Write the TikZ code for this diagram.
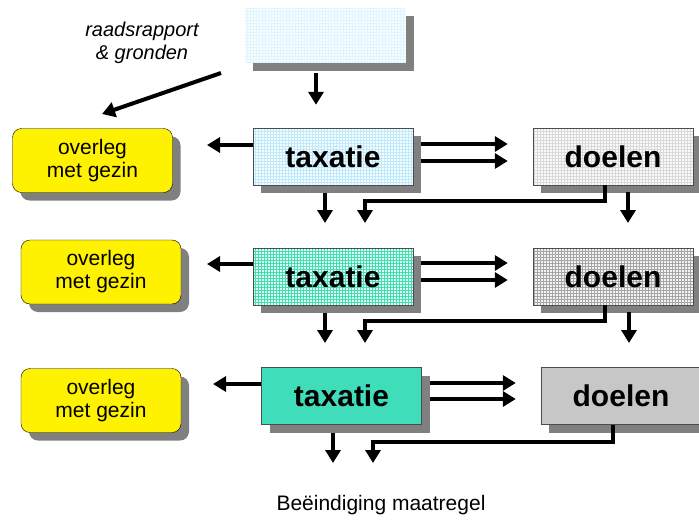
\documentclass[tikz,border=0pt]{standalone}
\usepackage{fontspec}
\setmainfont{Liberation Sans}
\usetikzlibrary{arrows.meta,shadows}

\definecolor{gridteal}{RGB}{64,224,176}
\definecolor{solidteal}{RGB}{64,221,187}

\tikzset{
  arr/.style={draw=black, -{Triangle[width=15pt,length=13pt]}, line width=4pt},
  shad/.style={drop shadow={shadow xshift=8pt, shadow yshift=-8pt, fill=black!50, opacity=1}},
  talk/.style={draw, rounded corners=9pt, fill=yellow, shad, minimum width=160pt, minimum height=64pt, align=center, font=\fontsize{21}{23}\selectfont},
  block/.style={draw=black!70, shad, minimum width=160pt, minimum height=57pt, font=\fontsize{30}{32}\selectfont\bfseries},
  grid over/.style={path picture={
      \draw[#1, line width=0.4pt, step=3pt] (path picture bounding box.south west) grid (path picture bounding box.north east);}},
}

\begin{document}
\begin{tikzpicture}[x=1pt,y=-1pt]
			\fill[white] (0,0) rectangle (699,522);
			\useasboundingbox (0,0) rectangle (699,522);
			% top
			\node[shad, minimum width=161pt, minimum height=55pt, fill=cyan!3, grid over=cyan!12] (top) at (325,35.5) {};
			\node[align=center, font=\fontsize{20}{23}\selectfont\itshape] (rap) at (142,43) {raadsrapport\\\& gronden};
			\coordinate (rs) at (221,73);
			\coordinate (rg) at (102,114);
			\draw[arr] (rs) -- (rg);
			% row 1
			\node[talk] (ov1) at (92.5,160.5) {overleg\\met gezin};
			\node[block, fill=cyan!4, grid over=cyan!25] (tx1) at (333,156.5) {taxatie};
			\node[block, fill=black!2, grid over=black!15] (dl1) at (613,156.5) {doelen};
			\draw[arr] ([shift={(-9,10)}]top.south) -- ([shift={(-17,-23)}]tx1.north);
			\coordinate (l1) at (207,145);
			\draw[arr] (tx1.west |- l1) -- (l1);
			\draw[arr] ([shift={(8,-12.5)}]tx1.east) -- ([shift={(-25,-12.5)}]dl1.west);
			\draw[arr] ([shift={(8,4.5)}]tx1.east) -- ([shift={(-25,4.5)}]dl1.west);
			\coordinate (a1) at (325,223);
			\coordinate (b1) at (365,223);
			\coordinate (c1) at (628,223);
			\draw[arr] (a1 |- tx1.south) ++(0,8) -- (a1);
			\draw[arr] ([xshift=-8pt]dl1.south) -- ++(0,16) -| (b1);
			\draw[arr] (c1 |- dl1.south) ++(0,7) -- (c1);
			% row 2
			\node[talk] (ov2) at (101,272) {overleg\\met gezin};
			\node[block, fill=gridteal!15, grid over=gridteal] (tx2) at (333,276.5) {taxatie};
			\node[block, fill=black!5, grid over=black!35] (dl2) at (613,276.5) {doelen};
			\coordinate (l2) at (207,264);
			\draw[arr] (tx2.west |- l2) -- (l2);
			\draw[arr] ([shift={(8,-13.5)}]tx2.east) -- ([shift={(-25,-13.5)}]dl2.west);
			\draw[arr] ([shift={(8,3.5)}]tx2.east) -- ([shift={(-25,3.5)}]dl2.west);
			\coordinate (a2) at (325,343);
			\coordinate (b2) at (365,343);
			\coordinate (c2) at (629,343);
			\draw[arr] (a2 |- tx2.south) ++(0,8) -- (a2);
			\draw[arr] ([xshift=-8pt]dl2.south) -- ++(0,16) -| (b2);
			\draw[arr] (c2 |- dl2.south) ++(0,7) -- (c2);
			% row 3
			\node[talk] (ov3) at (101,400.5) {overleg\\met gezin};
			\node[block, fill=solidteal] (tx3) at (341.5,396) {taxatie};
			\node[block, fill=black!22] (dl3) at (621,396) {doelen};
			\coordinate (l3) at (213,384);
			\draw[arr] (tx3.west |- l3) -- (l3);
			\draw[arr] ([shift={(8,-13)}]tx3.east) -- ([shift={(-25,-13)}]dl3.west);
			\draw[arr] ([shift={(8,3)}]tx3.east) -- ([shift={(-25,3)}]dl3.west);
			\coordinate (a3) at (333,463);
			\coordinate (b3) at (373,463);
			\draw[arr] (a3 |- tx3.south) ++(0,8) -- (a3);
			\draw[arr] ([xshift=-8pt]dl3.south) -- ++(0,17) -| (b3);
			\node[font=\fontsize{21}{23}\selectfont] (end) at (381,505) {Beëindiging maatregel};
\end{tikzpicture}
\end{document}
